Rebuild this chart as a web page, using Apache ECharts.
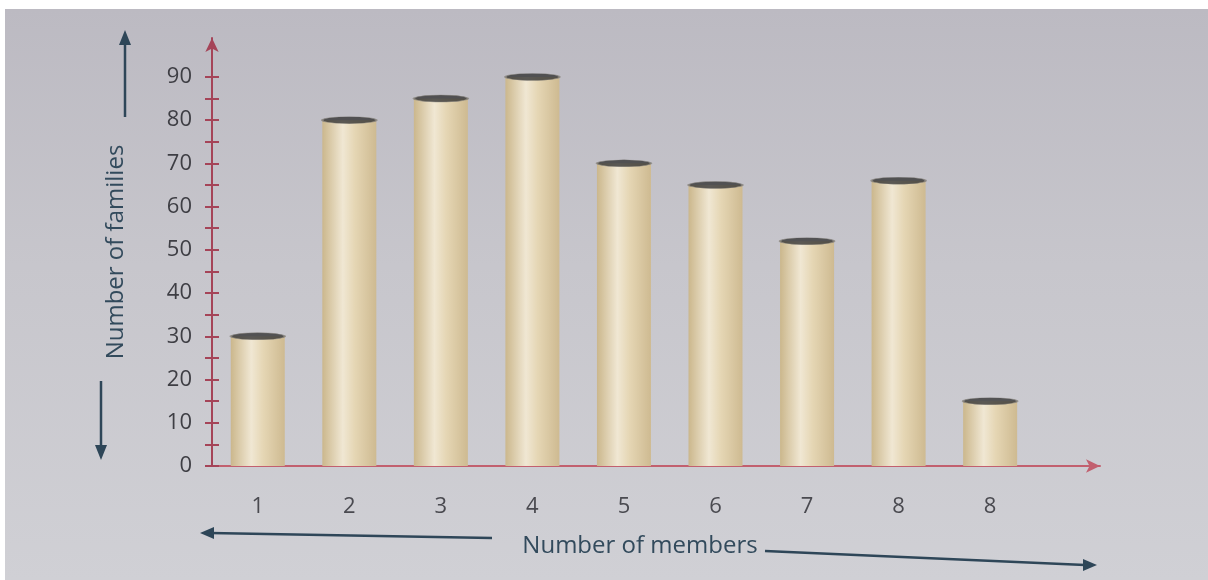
<!DOCTYPE html>
<html>
<head>
<meta charset="utf-8">
<script src="https://cdn.jsdelivr.net/npm/echarts@6/dist/echarts.min.js"></script>
<style>
  html, body { margin: 0; padding: 0; background: #ffffff; }
  #chart {
    position: absolute; left: 5px; top: 9px; width: 1203px; height: 571px;
    background: linear-gradient(180deg, #bcbac2 0%, #c7c6cc 45%, #d0d0d5 100%);
  }
</style>
</head>
<body>
<div id="chart"></div>
<script>
// ---- data ----
const categories = ['1', '2', '3', '4', '5', '6', '7', '8', '8'];
const families   = [30, 80, 85, 90, 70, 65, 52, 66, 15];
const yLabelValues = [0, 10, 20, 30, 40, 50, 60, 70, 80, 90];
const yTickValues  = [0, 5, 10, 15, 20, 25, 30, 35, 40, 45, 50, 55, 60, 65, 70, 75, 80, 85, 90];
const xTitle = 'Number of members';
const yTitle = 'Number of families';

const barPoints = families.map((v, i) => [i + 1, v]);

const chart = echarts.init(document.getElementById('chart'), null, { renderer: 'canvas' });
const font = '"Open Sans", "Noto Sans", sans-serif';
const yAxisColor = '#a54458';
const xAxisColor = '#c2606f';
const arrowColor = '#2e4658';

const cylinder = new echarts.graphic.LinearGradient(0, 0, 1, 0, [
  { offset: 0, color: '#cbb78c' },
  { offset: 0.38, color: '#f0e7d3' },
  { offset: 0.6, color: '#e5d6b4' },
  { offset: 1, color: '#ceba91' }
]);

function yAxisBase(inside) {
  return {
    type: 'value', min: 0, max: 99, interval: 10, position: 'left',
    axisLine: inside ? { show: false } : {
      show: true, symbol: ['none', 'arrow'], symbolSize: [10, 14],
      lineStyle: { color: yAxisColor, width: 2 }
    },
    axisTick: {
      show: true, inside: inside, length: 7, customValues: yTickValues,
      lineStyle: { color: yAxisColor, width: 2 }
    },
    axisLabel: inside ? { show: false } : {
      show: true, customValues: yLabelValues, margin: 20,
      color: '#3e3e44', fontSize: 22, fontFamily: font
    },
    splitLine: { show: false }
  };
}

const yMain = yAxisBase(false);
yMain.name = yTitle;
yMain.nameLocation = 'middle';
yMain.nameGap = 84;
yMain.nameTextStyle = { color: '#324a5c', fontSize: 24, fontFamily: font, padding: [0, 0, 0, 0] };

chart.setOption({
  animation: false,
  grid: { left: 207, right: 108, top: 29, bottom: 114, containLabel: false },
  xAxis: {
    type: 'value', min: 0.5, max: 10.2, interval: 0.5,
    name: xTitle, nameLocation: 'middle', nameGap: 68,
    nameTextStyle: { color: '#324a5c', fontSize: 24, fontFamily: font, padding: [0, 32, 0, 0] },
    axisLine: {
      show: true, onZero: false, symbol: ['none', 'arrow'], symbolSize: [10, 14],
      lineStyle: { color: xAxisColor, width: 2 }
    },
    axisTick: { show: false },
    axisLabel: {
      margin: 30, color: '#4a4a50', fontSize: 22, fontFamily: font,
      formatter: v => (Number.isInteger(v) && v >= 1 && v <= categories.length) ? categories[v - 1] : ''
    },
    splitLine: { show: false }
  },
  yAxis: [yMain, yAxisBase(true)],
  series: [
    {
      type: 'bar', data: barPoints, barWidth: 54, yAxisIndex: 0,
      itemStyle: { color: cylinder }, z: 2
    },
    {
      type: 'scatter', data: barPoints, yAxisIndex: 0,
      symbol: 'circle', symbolSize: [54, 7],
      itemStyle: { color: '#353434', borderColor: '#8a8680', borderWidth: 1 }, z: 3
    }
  ],
  graphic: [
    // y title arrows
    { type: 'line', shape: { x1: 120, y1: 108, x2: 120, y2: 32 }, style: { stroke: arrowColor, lineWidth: 2.5 } },
    { type: 'polygon', shape: { points: [[114, 36], [126, 36], [120, 21]] }, style: { fill: arrowColor } },
    { type: 'line', shape: { x1: 96, y1: 372, x2: 96, y2: 440 }, style: { stroke: arrowColor, lineWidth: 2.5 } },
    { type: 'polygon', shape: { points: [[90, 436], [102, 436], [96, 451]] }, style: { fill: arrowColor } },
    // x title arrows
    { type: 'line', shape: { x1: 205, y1: 524, x2: 487, y2: 529 }, style: { stroke: arrowColor, lineWidth: 2.5 } },
    { type: 'polygon', shape: { points: [[209, 518], [209, 530], [195, 524]] }, style: { fill: arrowColor } },
    { type: 'line', shape: { x1: 760, y1: 542, x2: 1080, y2: 556 }, style: { stroke: arrowColor, lineWidth: 2.5 } },
    { type: 'polygon', shape: { points: [[1078, 550], [1078, 562], [1092, 556]] }, style: { fill: arrowColor } }
  ]
});
</script>
</body>
</html>
